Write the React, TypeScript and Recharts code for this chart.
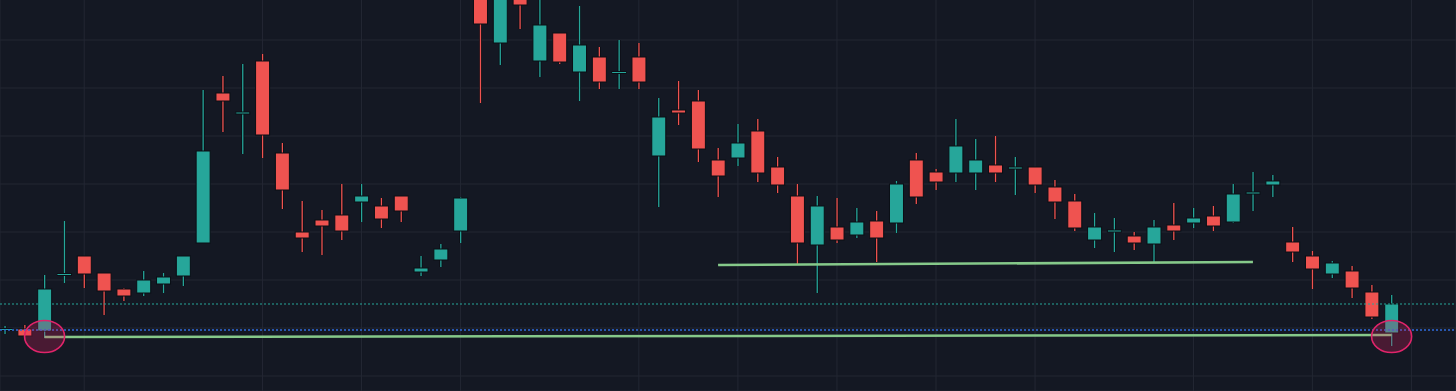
import { ComposedChart, Bar, XAxis, YAxis, CartesianGrid, ReferenceLine, ReferenceDot } from 'recharts';

// daily candles, oldest first (price units are arbitrary, no axis labels on the picture)
const opens = [
  71, 71, 69, 124.5, 144, 127, 111, 107, 116, 124, 157, 307, 287, 339, 247, 168, 180, 185, 198, 194,
  204, 128, 140, 169, 410, 357, 405, 339, 367, 328, 343, 328, 343, 244, 290, 299, 240, 242, 269, 233,
  204, 155, 173, 165, 179, 177, 240, 228, 227, 227, 235, 232.5, 233, 213, 199, 160, 169.5, 164, 156, 175,
  177, 184, 178, 207.5, 215, 158, 144, 126, 129, 108, 67,
];
const highs = [
  74, 75, 125, 179, 144, 127, 112, 129, 127, 144, 310, 324, 336, 346, 257, 199, 190, 216, 216, 202,
  204, 144, 156, 203, 420, 415, 412, 405, 367, 394, 353, 360, 357, 302, 319, 310, 252, 276, 281, 243,
  216, 204, 202, 192, 189, 219, 247, 231, 281, 261, 264, 243, 233, 220, 206, 187, 182, 168, 180, 197,
  192, 194, 216, 228, 225, 173, 149, 139, 134, 115, 105,
];
const lows = [
  66, 64, 62, 117, 112, 85, 99, 104, 107, 114, 157, 268, 246, 242, 191, 148, 145, 160, 178, 172,
  178, 124, 133, 157, 297, 335, 371, 323, 336, 299, 311, 311, 311, 193, 275, 238, 203, 234, 218, 207,
  135, 107, 157, 162, 138, 167, 196, 210, 218, 210, 218, 205, 207, 181, 169, 152, 148, 150, 137, 160,
  172, 169, 177, 189, 203, 138, 111, 122, 102, 81, 54,
];
const closes = [
  71.5, 64, 111, 126.5, 126, 109, 104, 120, 123, 144, 249, 299, 288, 265, 210, 162, 174, 169, 204, 181,
  189, 132, 151, 202, 376, 405, 395, 375, 338, 355, 318, 328.5, 318, 283, 287, 251, 224, 257, 227, 215,
  157, 194, 160, 178, 162, 216, 203, 218, 254, 240, 227, 233, 215, 198, 172, 173, 170, 157, 173, 169,
  182, 174, 206, 208, 219, 148, 131, 137, 112, 83, 96,
];

// horizontal / vertical grid positions
const priceGrid = [24, 72, 120, 168, 216, 264, 312, 360];
const timeGrid = [4, 13, 18, 23, 32, 37, 42, 47, 52, 60, 66, 71];

const lastPrice = 96;
const alertPrice = 70;

const lowerTrend = [{ x: 2, y: 63 }, { x: 70, y: 65 }];
const upperTrend = [{ x: 36, y: 135 }, { x: 63, y: 138 }];
const markers = [{ x: 2, y: 63.5 }, { x: 70, y: 63.5 }];

const UP = '#26a69a';
const DOWN = '#ef5350';
const BG = '#141823';

const candles = opens.map((open, i) => ({
  i,
  open,
  high: highs[i],
  low: lows[i],
  close: closes[i],
}));

const Candle = (props: any) => {
  const { x, width, y, height, payload } = props;
  const { open, close, high, low } = payload;
  const color = close >= open ? UP : DOWN;
  const cx = x + width / 2;
  const toY = (p: number) => y + ((high - p) / (high - low)) * height;
  const top = toY(Math.max(open, close));
  const bottom = toY(Math.min(open, close));
  const bodyH = Math.max(bottom - top, 2);
  return (
    <g>
      <line x1={cx} x2={cx} y1={y} y2={y + height} stroke="#0b0e15" strokeWidth={3} />
      <line x1={cx} x2={cx} y1={y} y2={y + height} stroke={color} strokeWidth={1.3} />
      <rect x={x} y={top} width={width} height={bodyH} fill={color} stroke="#0b0e15" strokeWidth={1} />
    </g>
  );
};

const Marker = (props: any) => (
  <ellipse
    cx={props.cx}
    cy={props.cy}
    rx={20}
    ry={16}
    fill="rgba(233, 30, 99, 0.25)"
    stroke="#e0246a"
    strokeWidth={1.6}
  />
);

export default function App() {
  return (
    <div
      style={{
        position: 'absolute',
        left: 0,
        top: 0,
        width: 1456,
        height: 391,
        overflow: 'hidden',
        background: BG,
      }}
    >
      <div style={{ marginTop: -30 }}>
        <ComposedChart width={1456} height={421} data={candles} margin={{ top: 0, right: 0, bottom: 0, left: 0 }}>
          <CartesianGrid stroke="#232733" strokeWidth={1} />
          <XAxis type="number" dataKey="i" domain={[-0.25, 73.25]} ticks={timeGrid} hide />
          <YAxis type="number" domain={[9, 430]} ticks={priceGrid} hide />
          <Bar
            dataKey={(d: any) => [d.low, d.high]}
            barSize={14}
            shape={<Candle />}
            isAnimationActive={false}
          />
          <ReferenceLine y={lastPrice} stroke={UP} strokeWidth={1} strokeDasharray="2 2" />
          <ReferenceLine y={alertPrice} stroke="#2f6bdb" strokeWidth={1.6} strokeDasharray="2 2" />
          <ReferenceLine segment={lowerTrend} stroke="#86c98a" strokeWidth={2.6} />
          <ReferenceLine segment={upperTrend} stroke="#86c98a" strokeWidth={2.6} />
          {markers.map((m, k) => (
            <ReferenceDot key={k} x={m.x} y={m.y} shape={<Marker />} />
          ))}
        </ComposedChart>
      </div>
    </div>
  );
}
